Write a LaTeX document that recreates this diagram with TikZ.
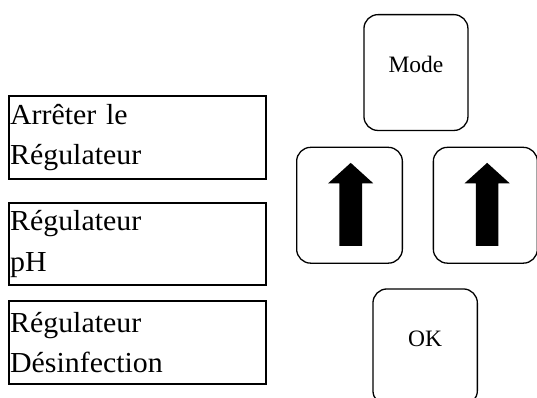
\documentclass[tikz,border=0pt]{standalone}
\usepackage{fontspec}
\setmainfont{Liberation Serif}
\newfontfamily\panelfont[FakeStretch=1.03]{Liberation Serif}
\begin{document}
\begin{tikzpicture}[x=1pt,y=-1pt,
  menubox/.style={draw, line width=2pt, rectangle, anchor=north west,
    minimum width=256.7pt, minimum height=82.7pt, inner xsep=0.8pt, inner ysep=0pt,
    text width=255pt, align=left, font=\panelfont\fontsize{29}{40.5}\selectfont},
  keybox/.style={draw, line width=1.3pt, rounded corners=14pt, anchor=north west,
    minimum height=115.8pt, inner sep=0pt},
  keylabel/.style={inner sep=0pt, font=\fontsize{23.5}{28}\selectfont},
  arrowglyph/.style={fill=black, draw=none}]
  \useasboundingbox (0,0) rectangle (537,398);

  % menu entries
  \node[menubox] (stop) at (8.3,95) {Arrêter le\\Régulateur};
  \node[menubox] (ph)   at (8.3,201.7) {Régulateur\\pH};
  \node[menubox] (dis)  at (8.3,300) {Régulateur\\Désinfection};

  % keypad
  \node[keybox, minimum width=104pt]   (mode)  at (363.3,14) {};
  \node[keybox, minimum width=105.7pt] (left)  at (296,146.7) {};
  \node[keybox, minimum width=104pt]   (right) at (432.7,146.7) {};
  \node[keybox, minimum width=104.4pt] (ok)    at (372.3,288.3) {};

  \node[keylabel] (modetext) at ([yshift=7.7pt]mode.center) {Mode};
  \node[keylabel] (oktext)   at ([yshift=8.4pt]ok.center) {OK};

  % up arrows on the two middle keys
  \foreach \k/\dx in {left/1.2, right/1.8}{
    \fill[arrowglyph] ([shift={(\dx,-42.4)}]\k.center)
      -- ([shift={(\dx+22.5,-22)}]\k.center)
      -- ([shift={(\dx+11.3,-22)}]\k.center)
      -- ([shift={(\dx+11.3,40.6)}]\k.center)
      -- ([shift={(\dx-11.3,40.6)}]\k.center)
      -- ([shift={(\dx-11.3,-22)}]\k.center)
      -- ([shift={(\dx-22.5,-22)}]\k.center) -- cycle;
  }
\end{tikzpicture}
\end{document}
